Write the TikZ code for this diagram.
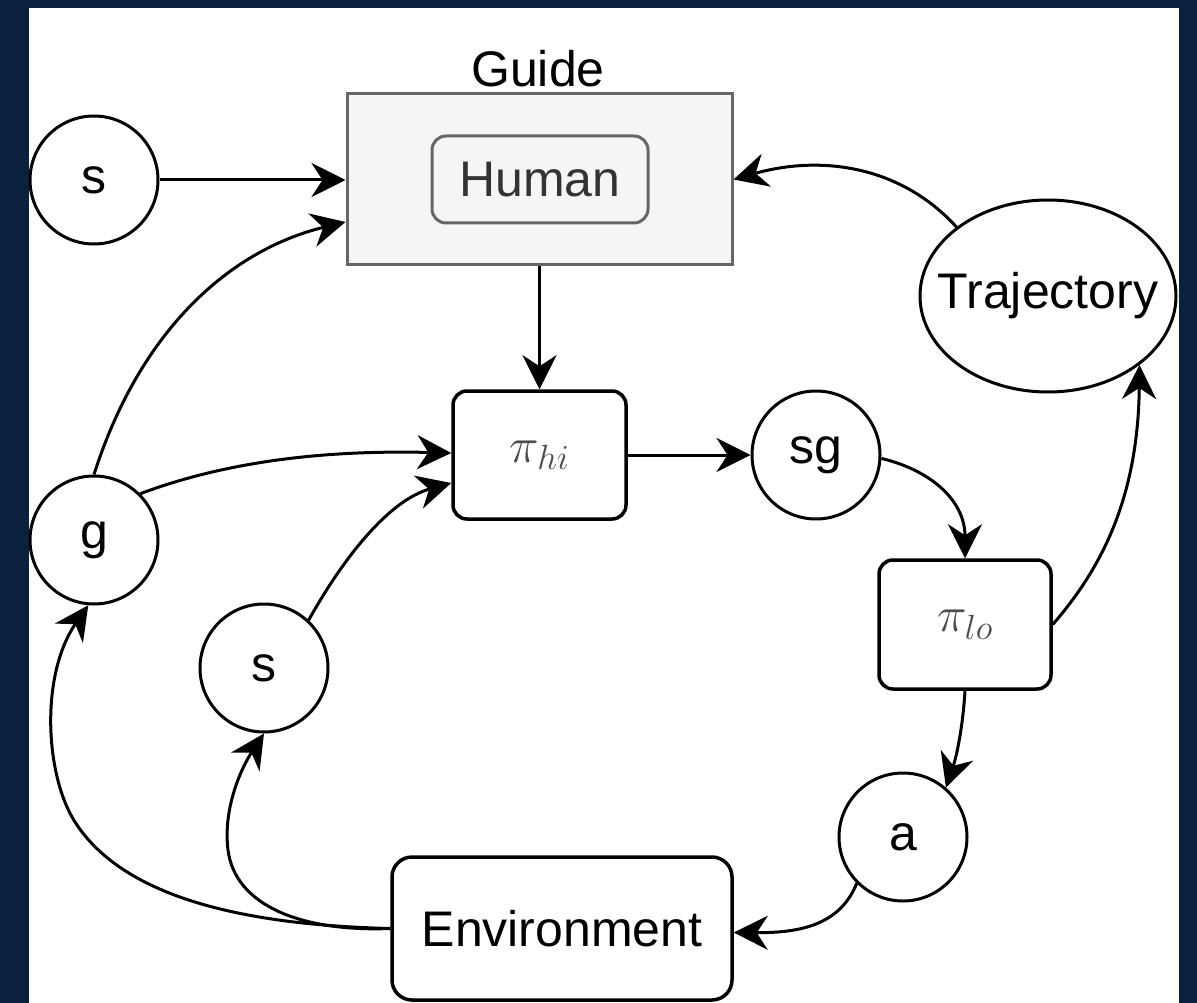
\documentclass[tikz,border=0pt]{standalone}
\usepackage{fix-cm}
\usepackage{fontspec}
\setmainfont{Liberation Sans}
\usetikzlibrary{arrows.meta,shapes.geometric}
\definecolor{navy}{HTML}{0B223F}
\definecolor{gfill}{HTML}{F5F5F5}
\definecolor{gstroke}{HTML}{666666}
\definecolor{gtext}{HTML}{333333}
\definecolor{mtext}{HTML}{4D4D4D}
\begin{document}
\begin{tikzpicture}[x=1pt,y=-1pt,
  font=\fontsize{50}{60}\selectfont,
  circ/.style={circle,draw=black,line width=3pt,minimum size=128pt,inner sep=0pt},
  box/.style={rectangle,rounded corners=14pt,draw=black,line width=3.5pt,inner sep=0pt},
  conn/.style={line width=3pt,-{Stealth[length=34pt,width=34pt,inset=11pt]}}
]
\useasboundingbox (0,0) rectangle (1197,1003);
\fill[navy] (0,0) rectangle (1197,1003);
\fill[white] (29,8) rectangle (1179,1003);

% nodes
\node[circ] (s1) at (94,180) {s};
\node[rectangle,draw=gstroke,fill=gfill,line width=3pt,minimum width=385pt,minimum height=171pt,inner sep=0pt] (guide) at (539.5,179.5) {};
\node[anchor=base] (guidelabel) at (538,87) {Guide};
\node[rectangle,rounded corners=14pt,draw=gstroke,line width=3pt,minimum width=216pt,minimum height=87pt,inner sep=0pt,text=gtext] (human) at (540,179.5) {Human};
\node[circ] (g) at (94,540) {g};
\node[box,minimum width=173pt,minimum height=128pt] (hi) at (539.5,455) {\color{mtext}$\pi_{hi}$};
\node[circ] (sg) at (816,455) {sg};
\node[circ] (s2) at (264,668) {s};
\node[box,minimum width=172pt,minimum height=129pt] (lo) at (965,624.5) {\color{mtext}$\pi_{lo}$};
\node[ellipse,draw=black,line width=3pt,minimum width=256pt,minimum height=192pt,inner sep=0pt] (traj) at (1048,296) {};
\node (trajtext) at (traj.center) {Trajectory};
\node[circ] (a) at (903,837) {a};
\node[box,rounded corners=20pt,minimum width=340pt,minimum height=143pt] (env) at (562,928.5) {Environment};

% connectors
\draw[conn] (s1) -- (s1 -| guide.west);
\draw[conn] (g.north) .. controls (140,330) and (230,250) .. ([yshift=-42.5pt]guide.west);
\draw[conn] (g.45) .. controls (230,460) and (330,450) .. ([yshift=2pt]hi.west);
\draw[conn] (s2.47) .. controls (345,555) and (390,500) .. ([yshift=-28pt]hi.west);
\draw[conn] (guide) -- (hi);
\draw[conn] (hi) -- (sg);
\draw[conn] (sg.-3) .. controls (930,470) and (965,500) .. (lo.north);
\draw[conn] (lo.south) .. controls (963,725) and (957,755) .. (a.49);
\draw[conn] (a.225) .. controls (840,925) and (800,933) .. ([yshift=-4pt]env.east);
\draw[conn] (env.west) .. controls (250,925) and (125,900) .. (75,822) .. controls (45,775) and (40,675) .. (g.-95);
\draw[conn] (env.west) .. controls (300,932) and (235,905) .. (228,850) .. controls (223,810) and (240,770) .. (s2.south);
\draw[conn] (lo.east) .. controls (1100,570) and (1138,500) .. (traj.-37);
\draw[conn] (traj.143) .. controls (900,165) and (820,155) .. (guide.east);
\end{tikzpicture}
\end{document}
